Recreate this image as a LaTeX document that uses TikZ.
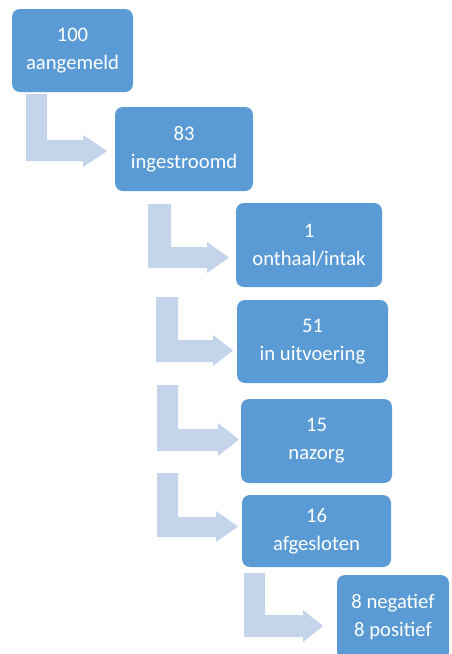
\documentclass[tikz,border=0pt]{standalone}
\usepackage{fontspec}
\setmainfont{Carlito}
\definecolor{boxblue}{RGB}{91,155,213}
\definecolor{arrowblue}{RGB}{196,212,234}
\def\u{0.75pt}
\tikzset{
  box/.style={fill=boxblue, draw=none, rounded corners=6pt, inner sep=0pt,
    text=white, align=center, font=\fontsize{15.5pt}{21pt}\selectfont},
  arrowfill/.style={fill=arrowblue, draw=none}
}
% bent arrow: xl, xr, top, bar y1, bar y2, head base x, head y1, head y2, tip x
\newcommand\bentarrow[9]{%
  \fill[arrowfill] (#1,#3) -- (#2,#3) -- (#2,#4) -- (#6,#4) -- (#6,#7)
    -- (#9,{(#7+#8)/2}) -- (#6,#8) -- (#6,#5) -- (#1,#5) -- cycle;}
\begin{document}
\begin{tikzpicture}[x=0.75pt,y=-0.75pt]
\fill[white] (0,0) rectangle (451,654);
\useasboundingbox (0,0) rectangle (451,654);
% arrows
\bentarrow{26}{47}{94}{140}{161}{83}{135}{167}{107}
\bentarrow{148}{171}{204}{247}{268}{207}{242}{273}{229}
\bentarrow{156}{178}{297}{340}{362}{213}{335}{366}{233}
\bentarrow{157}{178}{385}{429}{451}{218}{423}{456}{239}
\bentarrow{157}{178}{473}{517}{537}{216}{511}{542}{238}
\bentarrow{244}{265}{573}{615}{637}{303}{610}{642}{323}
% boxes
\node[box, minimum width=121*\u, minimum height=83*\u] (n1) at (72.5,50.5) {100\\aangemeld};
\node[box, minimum width=138*\u, minimum height=84*\u] (n2) at (184,149) {83\\ingestroomd};
\node[box, minimum width=146*\u, minimum height=84*\u] (n3) at (309,245) {1\\onthaal/intak};
\node[box, minimum width=151*\u, minimum height=83*\u] (n4) at (312.5,341.5) {51\\in uitvoering};
\node[box, minimum width=151*\u, minimum height=84*\u] (n5) at (316.5,441) {15\\nazorg};
\node[box, minimum width=149*\u, minimum height=72*\u] (n6) at (316.5,531) {16\\afgesloten};
\node[box, minimum width=112*\u, minimum height=85*\u] (n7) at (393,617.5) {8 negatief\\8 positief};
\end{tikzpicture}
\end{document}
